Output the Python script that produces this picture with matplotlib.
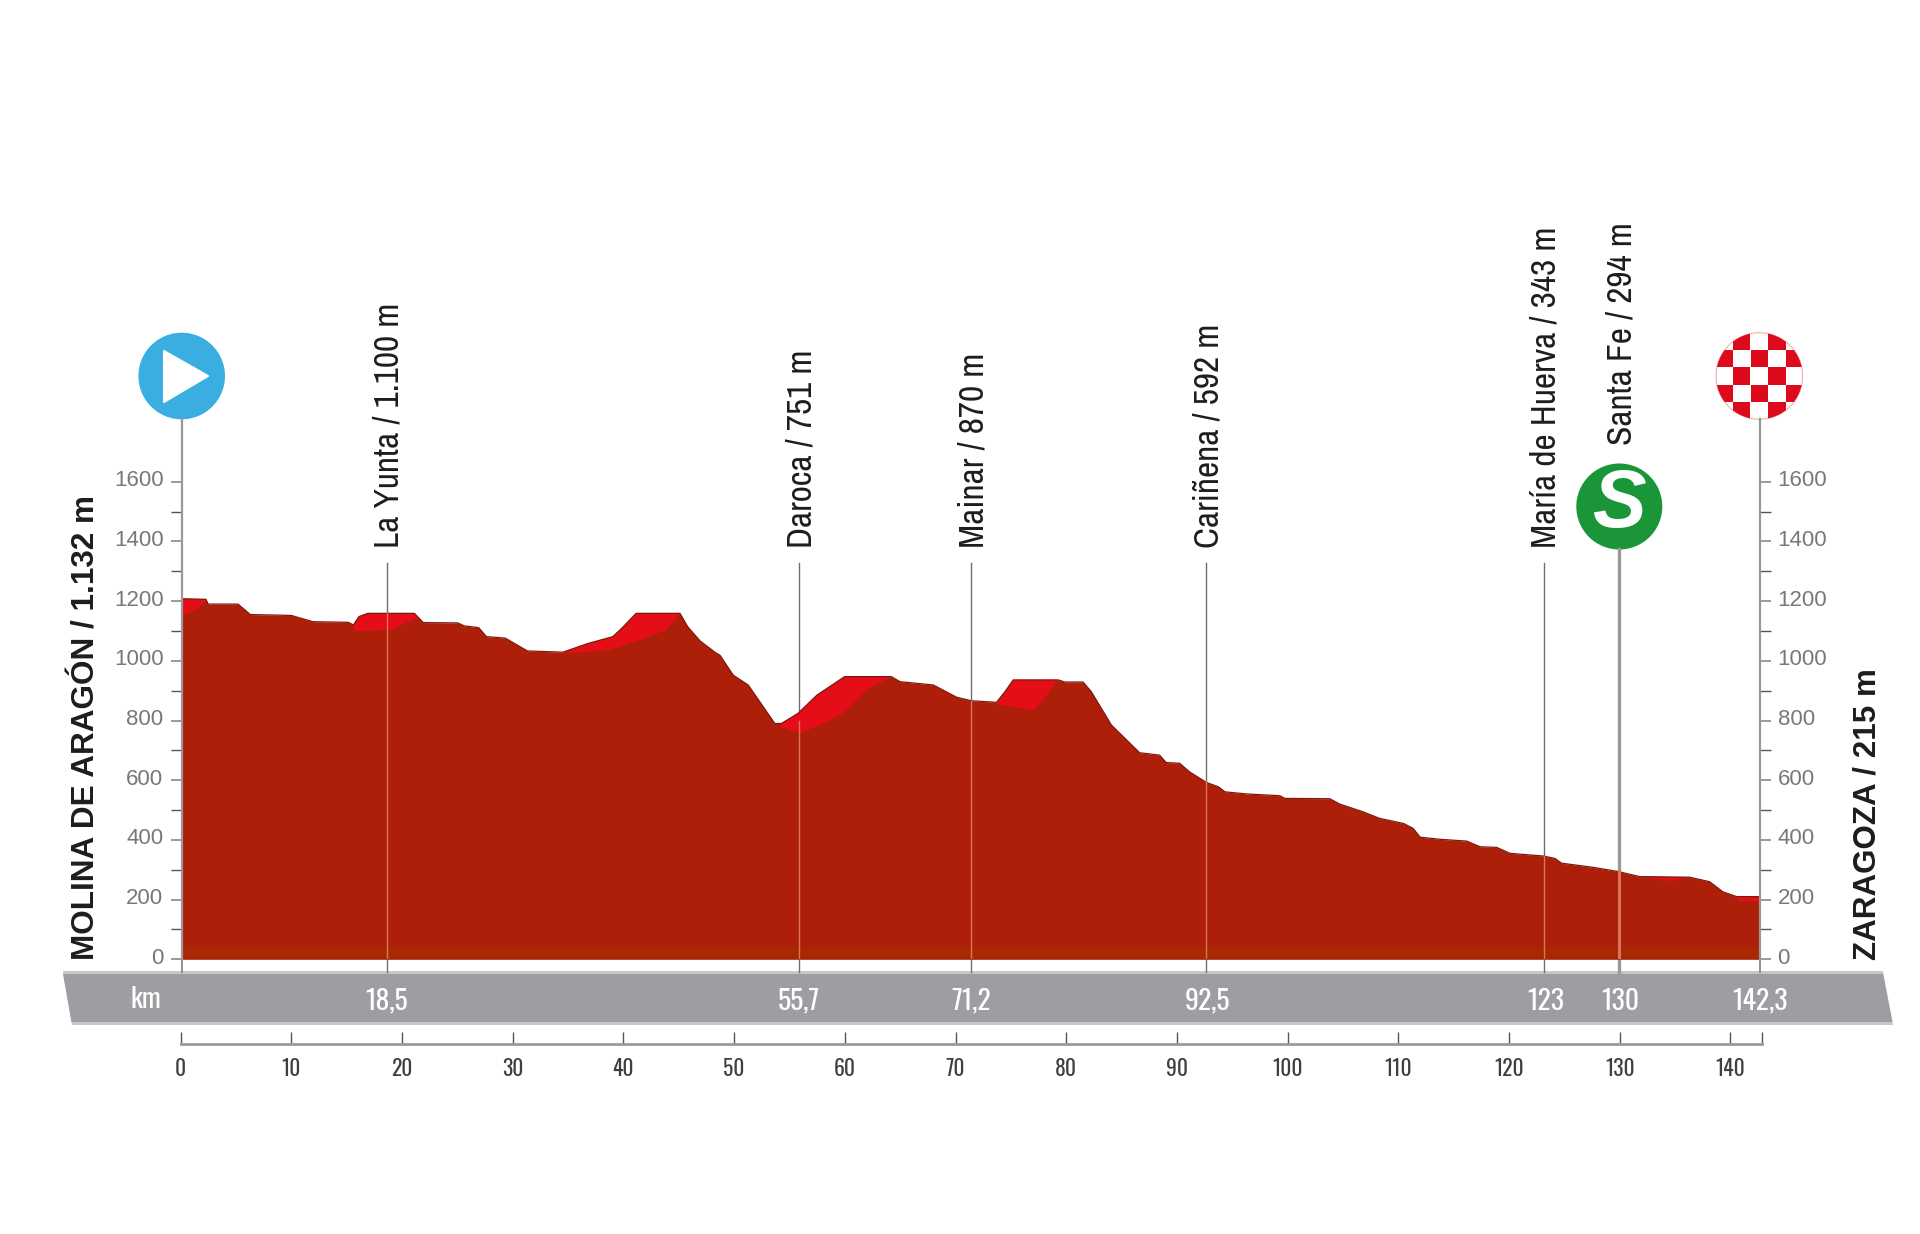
import matplotlib
matplotlib.use("Agg")
import matplotlib.pyplot as plt
from matplotlib.patches import Circle, Polygon, Rectangle
from matplotlib.transforms import blended_transform_factory, ScaledTranslation
from matplotlib.ticker import FixedLocator

# ---------- data ----------
profile_km = [0, 2.2, 2.4, 5.1, 6.2, 9.9, 11.85, 15.05, 15.5, 16, 16.8, 21, 21.8, 24.9, 25.5, 26.8, 27.5, 29.2,
              31.2, 34.4, 36.65, 38.9, 39.7, 41, 44.95, 45.65, 46.75, 48.2, 48.55, 49.75, 51.1, 53.5, 54.1, 55.6,
              57.3, 59.8, 64, 64.8, 67.8, 69.9, 71.25, 73.5, 74.25, 75, 79.05, 79.65, 81.3, 82.05, 83.85, 86.4,
              88.2, 88.8, 90, 90.9, 92.45, 93.5, 94.1, 96.05, 99.05, 99.5, 103.55, 104.45, 106.55, 108.05, 110.2,
              111.05, 111.7, 113.5, 115.9, 117.1, 118.6, 119.8, 122.8, 123.85, 124.45, 127.3, 129.55, 131.5, 136,
              137.8, 139, 140.25, 142.3]
profile_m = [1208, 1206, 1190, 1190, 1155, 1152, 1131, 1129, 1120, 1148, 1159, 1159, 1128, 1127, 1117, 1111, 1081, 1076,
             1033, 1029, 1058, 1081, 1109, 1159, 1159, 1114, 1067, 1026, 1019, 952, 919, 790, 790, 824,
             885, 947, 947, 930, 919, 878, 866, 861, 896, 936, 936, 929, 929, 896, 785, 692,
             684, 659, 657, 628, 592, 578, 561, 554, 548, 539, 538, 520, 494, 472, 455,
             439, 409, 402, 396, 377, 375, 355, 346, 338, 322, 308, 294, 277, 275,
             260, 226, 210, 210]

climb_a_km = [0, 2.2, 2.2, 1.2, 0]
climb_a_m = [1208, 1206, 1198, 1170, 1148]
climb_b_km = [15.5, 16, 16.8, 21, 21.4, 20.2, 18.9, 15.55]
climb_b_m = [1120, 1148, 1159, 1159, 1143, 1127, 1103, 1101]
climb_c_km = [34.4, 36.65, 38.9, 39.7, 41, 44.95, 43.7, 41.4, 38.55, 34.7]
climb_c_m = [1029, 1058, 1081, 1109, 1159, 1159, 1103, 1070, 1036, 1025]
climb_d_km = [54.1, 55.6, 57.3, 59.8, 64, 61.8, 59.7, 57.9, 55.8, 54]
climb_d_m = [790, 824, 885, 947, 947, 902, 824, 790, 757, 779]
climb_e_km = [73.5, 74.25, 75, 79.05, 77.7, 76.8, 73.5]
climb_e_m = [861, 896, 936, 936, 869, 835, 855]
climb_f_km = [131.5, 136, 134]
climb_f_m = [277, 275, 262]
climb_g_km = [140.25, 142.3, 142.3, 140.4]
climb_g_m = [210, 210, 195, 195]

places = ["La Yunta / 1.100 m", "Daroca / 751 m", "Mainar / 870 m", "Cariñena / 592 m", "María de Huerva / 343 m", "Santa Fe / 294 m"]
place_km = [18.5, 55.7, 71.2, 92.4, 122.85, 129.65]
place_elev = [1159, 800, 866, 596, 346, 296]
band_labels = ["18,5", "55,7", "71,2", "92,5", "123", "130", "142,3"]
band_km = [18.5, 55.7, 71.2, 92.5, 123, 129.75, 142.3]
elev_ticks = [0, 200, 400, 600, 800, 1000, 1200, 1400, 1600]
elev_minor = [100, 300, 500, 700, 900, 1100, 1300, 1500]
km_ticks = [0, 10, 20, 30, 40, 50, 60, 70, 80, 90, 100, 110, 120, 130, 140]

# ---------- layout ----------
W, H = 1920, 1234
NARROW = ["Archivo Narrow", "Liberation Sans"]
TALL = ["Oswald", "Antonio", "Liberation Sans"]
SANS = ["Liberation Sans"]
X0, X1, Y0, YTOP = 181.5, 1759.5, 959.3, 419.0
fig = plt.figure(figsize=(W / 100, H / 100), dpi=100, facecolor="white")

px = fig.add_axes([0, 0, 1, 1], zorder=1)
px.set_xlim(0, W); px.set_ylim(H, 0); px.axis("off")

ax = fig.add_axes([X0 / W, 1 - Y0 / H, (X1 - X0) / W, (Y0 - YTOP) / H], zorder=2)
ax.patch.set_alpha(0)
ax.set_xlim(0, 142.3)
ax.set_ylim(0, (Y0 - YTOP) / 0.2985)
trans = blended_transform_factory(ax.transData, px.transData)

# band
px.add_patch(Polygon([(63, 971), (1883, 971), (1893, 1025), (72, 1025)], closed=True, fc="#c6c7c9", ec="none"))
px.add_patch(Polygon([(63, 974), (1883, 974), (1892.5, 1022), (71.5, 1022)], closed=True, fc="#9c9ea1", ec="none"))

# profile
ax.fill_between(profile_km, profile_m, 0, color="#ad1f08", lw=0, zorder=2)
ax.axhspan(0, 45, xmin=0, xmax=1, color="#a92703", lw=0, zorder=2.1)
for k, m in [(climb_a_km, climb_a_m), (climb_b_km, climb_b_m), (climb_c_km, climb_c_m), (climb_d_km, climb_d_m),
             (climb_e_km, climb_e_m), (climb_f_km, climb_f_m), (climb_g_km, climb_g_m)]:
    ax.fill(k, m, color="#e40d18", lw=0, zorder=2.2)
ax.plot(profile_km, profile_m, color="#7d1a0c", lw=0.9, zorder=2.3)
ax.plot([0, 142.3], [0, 0], color="#7d1a0c", lw=1.0, zorder=2.3)

# marker lines and labels
label_bottom = [548, 548, 548, 548, 548, 445]
line_top = [563, 563, 563, 563, 563, 549]
label_shift = ScaledTranslation(1.5 / 72, 0, fig.dpi_scale_trans)
for name, k, e, lb, lt in zip(places, place_km, place_elev, label_bottom, line_top):
    thick = k > 129
    ax.plot([k, k], [lt, 972], transform=trans, color="#9a9a9a" if thick else "#6f6f6f", lw=2.4 if thick else 1.0,
            clip_on=False, zorder=1.5)
    ax.plot([k, k], [0, e], color="#d8755a", lw=2.2 if thick else 1.0, zorder=2.5)
    ax.text(k, lb, name, transform=trans + label_shift, rotation=90, ha="center", va="bottom", family=NARROW,
            fontsize=25.5, color="#1d1d1b", zorder=5)

for k in (0, 142.3):
    ax.plot([k, k], [959.3, 972], transform=trans, color="#8f8f8f", lw=1.4, clip_on=False, zorder=1.5)

# elevation axes
for s in ("top", "bottom"):
    ax.spines[s].set_visible(False)
for s in ("left", "right"):
    ax.spines[s].set_color("#999999")
    ax.spines[s].set_linewidth(1.6)
ax.set_xticks([])
ax.yaxis.set_major_locator(FixedLocator(elev_ticks))
ax.yaxis.set_minor_locator(FixedLocator(elev_minor))
ax.tick_params(axis="y", which="major", left=True, right=True, length=8, width=1.2, color="#888888",
               labelleft=True, labelright=True, labelsize=16, labelcolor="#77787b", pad=5)
ax.tick_params(axis="y", which="minor", left=True, right=True, length=8, width=1.0, color="#555555")
up = ScaledTranslation(0, 2.5 / 72, fig.dpi_scale_trans)
for t in ax.get_yticklabels():
    t.set_family(SANS)
    t.set_transform(t.get_transform() + up)

# terminal names
px.text(87, 960, "MOLINA DE ARAGÓN / 1.132 m", rotation=90, ha="center", va="bottom", family=SANS,
        fontweight="bold", fontsize=22.7, color="#1d1d1b")
px.text(1867, 960, "ZARAGOZA / 215 m", rotation=90, ha="center", va="bottom", family=SANS,
        fontweight="bold", fontsize=22.6, color="#1d1d1b")

# band labels
px.text(146, 1000, "km", ha="center", va="center", family=TALL, fontsize=20, color="white")
for lab, k in zip(band_labels, band_km):
    ax.text(k, 1001, lab, transform=trans, ha="center", va="center", family=TALL, fontsize=20, color="white",
            clip_on=False, zorder=5)

# km axis
kx = fig.add_axes([180.6 / W, 1 - 1044 / H, (1762 - 180.6) / W, 1 / H], zorder=2)
kx.patch.set_alpha(0)
kx.set_xlim(0, 142.85); kx.set_yticks([])
for s in ("top", "left", "right"):
    kx.spines[s].set_visible(False)
kx.spines["bottom"].set_color("#9a9a9a")
kx.spines["bottom"].set_linewidth(2)
kx.set_xticks(km_ticks + [142.85])
kx.set_xticklabels([str(v) for v in km_ticks] + [""], family=TALL, fontsize=15.5, color="#3f3f3f")
kx.tick_params(axis="x", direction="in", length=9, width=1.0, color="#555555", pad=10)

# icons
px.add_patch(Circle((181.7, 376), 43.3, fc="#3aaee0", ec="none", zorder=3))
px.add_patch(Polygon([(164, 351), (208, 376), (164, 402)], closed=True, fc="white", ec="white", lw=1.5,
                     joinstyle="round", zorder=4))

px.add_patch(Circle((1619.3, 506.5), 43, fc="#1a9639", ec="none", zorder=3))
px.text(1619.3, 506.5, "S", ha="center", va="center", family=SANS, fontweight="bold", style="italic",
        fontsize=58, color="white", zorder=4)

cx, cy, r, c = 1759.3, 376, 43.3, 17.6
disc = Circle((cx, cy), r, fc="white", ec="#f0b0b0", lw=0.8, zorder=3)
px.add_patch(disc)
for i in range(-3, 4):
    for j in range(-3, 4):
        if (i + j) % 2:
            q = Rectangle((cx + (i - 0.5) * c, cy + (j - 0.5) * c), c, c, fc="#dd0a1c", ec="none", zorder=4)
            px.add_patch(q)
            q.set_clip_path(disc)

fig.savefig("out.png", dpi=100, facecolor="white")
